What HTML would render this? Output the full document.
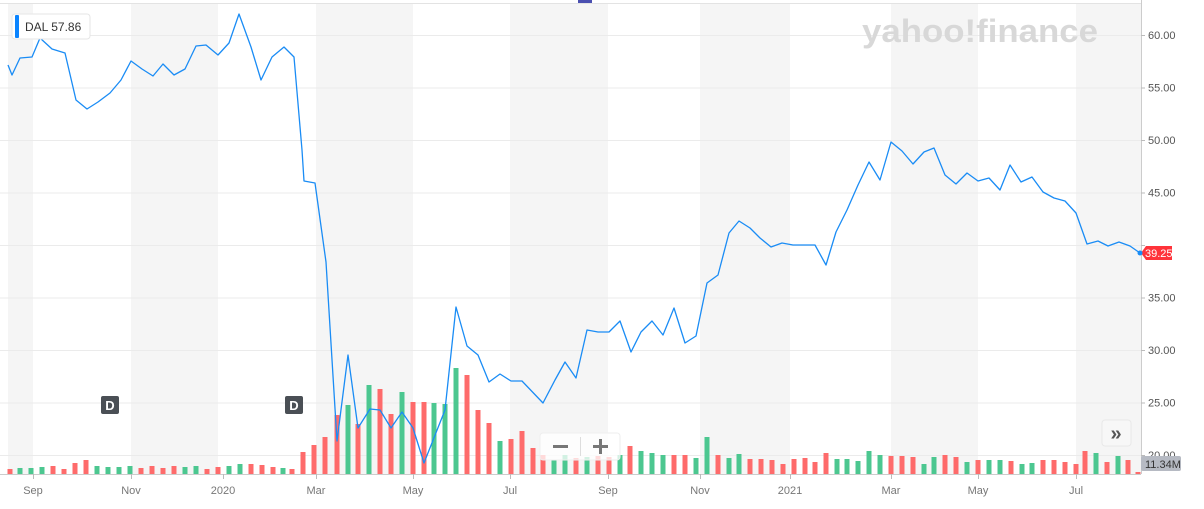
<!DOCTYPE html>
<html><head><meta charset="utf-8"><style>
body{margin:0;width:1204px;height:509px;overflow:hidden;background:#fff;font-family:"Liberation Sans",sans-serif}
svg{position:absolute;left:0;top:0}
</style></head><body>
<svg width="1204" height="509" id="s">
<g id="bands" fill="#f5f5f5">
<rect x="8" y="4" width="25" height="470"/>
<rect x="131" y="4" width="87" height="470"/>
<rect x="316" y="4" width="97" height="470"/>
<rect x="510" y="4" width="98" height="470"/>
<rect x="700" y="4" width="90" height="470"/>
<rect x="891" y="4" width="87" height="470"/>
<rect x="1076" y="4" width="65" height="470"/>
</g>
<line x1="0" y1="3.5" x2="1141" y2="3.5" stroke="#e3e3e3"/>
<g stroke="#ebebeb" id="grid"></g>
<g id="vol"></g>
<polyline id="price" fill="none" stroke="#1a8cf5" stroke-width="1.3" stroke-linejoin="round"/>
<line x1="0" y1="474.5" x2="1141" y2="474.5" stroke="#ccc"/>
<line x1="1141.5" y1="0" x2="1141.5" y2="474" stroke="#ccc"/>
<g id="ax" font-size="11" fill="#555"></g>
<g id="xax" font-size="11" fill="#777" text-anchor="middle"></g>
<rect x="578" y="0" width="14" height="3" fill="#4a4fb0"/>
<text x="980" y="42" font-size="32" font-weight="bold" fill="#d8d8d8" text-anchor="middle" textLength="236" lengthAdjust="spacingAndGlyphs">yahoo!finance</text>
<rect x="12" y="14" width="78" height="25" rx="3" fill="#fff" stroke="#e6e6e6"/>
<rect x="15" y="15" width="4" height="23" fill="#0a84ff" rx="1"/>
<text x="25" y="31" font-size="12" fill="#333">DAL  57.86</text>
<rect x="101" y="396" width="18" height="18" rx="2" fill="#4a4f55"/>
<text x="110" y="410" font-size="13" font-weight="bold" fill="#fff" text-anchor="middle">D</text>
<rect x="285" y="396" width="18" height="18" rx="2" fill="#4a4f55"/>
<text x="294" y="410" font-size="13" font-weight="bold" fill="#fff" text-anchor="middle">D</text>
<rect x="540" y="433" width="80" height="27" rx="3" fill="#fff" fill-opacity="0.75" stroke="#eee"/>
<rect x="553" y="445" width="15" height="3" fill="#777"/>
<rect x="593" y="445" width="15" height="3" fill="#777"/>
<rect x="599" y="439" width="3" height="15" fill="#777"/>
<line x1="580.5" y1="437" x2="580.5" y2="456" stroke="#ddd"/>
<rect x="1102" y="420" width="29" height="26" rx="3" fill="#f7f7f7" stroke="#e8e8e8"/>
<text x="1116" y="440" font-size="20" fill="#555" text-anchor="middle" font-weight="bold">»</text>
<path d="M1141 253 l5 -7 h26 v14 h-26z" fill="#ff333a"/>
<text x="1145" y="257" font-size="11" fill="#fff">39.25</text>
<circle cx="1140" cy="253" r="2.5" fill="#1a8cf5"/>
<rect x="1141" y="456" width="40" height="15" rx="2" fill="#b6bac3"/>
<text x="1145" y="468" font-size="11" fill="#333">11.34M</text>
</svg>
<script>
var ns="http://www.w3.org/2000/svg";
function el(p,t,a,tx){var e=document.createElementNS(ns,t);for(var k in a)e.setAttribute(k,a[k]);if(tx)e.textContent=tx;document.getElementById(p).appendChild(e);}
var vals=[60,55,50,45,40,35,30,25,20];
vals.forEach(function(v){var y=35+(60-v)*10.5;el("grid","line",{x1:0,x2:1141,y1:y+.5,y2:y+.5});el("ax","line",{x1:1141,x2:1145,y1:y+.5,y2:y+.5,stroke:"#bbb"});if(v!=40&&v!=20)el("ax","text",{x:1148,y:y+4},v.toFixed(2));});
el("ax","text",{x:1148,y:459},"20.00");
var m=[[33,"Sep"],[131,"Nov"],[223,"2020"],[316,"Mar"],[413,"May"],[510,"Jul"],[608,"Sep"],[700,"Nov"],[790,"2021"],[891,"Mar"],[978,"May"],[1076,"Jul"]];
m.forEach(function(a){el("xax","line",{x1:a[0]+.5,x2:a[0]+.5,y1:474,y2:479,stroke:"#bbb"});el("xax","text",{x:a[0],y:494},a[1]);});
var p=[[8,65],[12,75],[20,58],[32,57],[40,38],[52,49],[65,53],[76,100],[87,109],[98,102],[110,93],[121,80],[131,61],[142,69],[153,76],[163,64],[174,75],[185,69],[196,46],[206,45],[218,55],[229,43],[239,14],[251,47],[261,80],[272,57],[284,47],[294,57],[302,150],[304,181],[315,183],[326,262],[337,441],[348,355],[358,428],[370,409],[380,410],[391,428],[402,412],[413,428],[424,463],[445,410],[456,307],[467,346],[478,355],[489,382],[500,374],[511,381],[522,381],[543,403],[555,380],[565,362],[576,378],[587,330],[598,332],[609,332],[620,321],[631,352],[641,332],[652,321],[663,335],[674,308],[685,343],[696,336],[707,283],[718,275],[729,233],[739,221],[750,228],[760,238],[771,247],[782,243],[793,245],[804,245],[815,245],[826,265],[836,232],[847,210],[858,185],[869,162],[880,180],[891,142],[902,151],[913,164],[924,152],[934,148],[945,175],[956,184],[967,173],[978,181],[989,178],[1000,190],[1010,165],[1021,182],[1032,177],[1043,192],[1054,198],[1065,201],[1076,213],[1087,244],[1098,241],[1108,246],[1119,242],[1130,246],[1140,253]];
document.getElementById("price").setAttribute("points",p.map(function(a){return a.join(",")}).join(" "));
var early=[[10,469,"r"],[20,468,"g"],[31,468,"g"],[42,467,"g"],[53,466,"r"],[64,469,"r"],[75,463,"r"],[86,460,"r"],[97,466,"g"],[108,467,"g"],[119,467,"g"],[130,466,"g"],[141,468,"r"],[152,466,"r"],[163,468,"r"],[174,466,"r"],[185,467,"g"],[196,466,"g"],[207,469,"r"],[218,467,"r"],[229,466,"g"],[240,464,"g"],[251,464,"r"],[262,465,"r"],[273,467,"r"],[283,468,"g"],[292,469,"r"],[303,452,"r"],[314,445,"r"],[325,437,"r"],[337,415,"r"],[348,405,"g"],[358,424,"r"],[369,385,"g"],[380,389,"r"],[391,414,"r"],[402,392,"g"],[413,402,"r"],[424,402,"r"],[434,403,"g"],[445,404,"g"],[456,368,"g"],[467,375,"r"],[478,410,"r"],[489,423,"r"],[500,441,"g"],[511,439,"r"],[522,431,"r"],[533,448,"r"],[543,455,"r"],[554,460,"g"],[565,455,"g"],[576,458,"r"],[587,457,"g"],[598,456,"r"],[609,457,"r"],[620,455,"g"],[630,446,"r"],[641,451,"g"],[652,453,"g"],[663,455,"g"],[674,455,"r"],[685,455,"r"],[696,458,"g"],[707,437,"g"],[718,455,"r"],[729,458,"g"],[739,454,"g"],[750,459,"r"],[761,459,"r"],[772,460,"r"],[783,464,"r"],[794,459,"r"],[805,458,"r"],[815,462,"r"],[826,453,"r"],[837,459,"g"],[847,459,"g"],[858,461,"g"],[869,451,"g"],[880,455,"g"],[891,456,"r"],[902,456,"r"],[913,457,"r"],[924,464,"g"],[934,457,"g"],[945,455,"r"],[956,457,"r"],[967,462,"g"],[978,460,"r"],[989,460,"g"],[1000,460,"g"],[1011,461,"r"],[1022,464,"g"],[1032,463,"g"],[1043,460,"r"],[1054,460,"r"],[1065,462,"r"],[1076,464,"r"],[1085,451,"r"],[1096,453,"g"],[1107,462,"r"],[1118,456,"g"],[1128,460,"r"],[1138,472,"r"]];
early.forEach(function(b){el("vol","rect",{x:b[0]-2.5,y:b[1],width:5,height:474-b[1],fill:b[2]=="r"?"#fe6b6b":"#4cc790"});});
</script>
</body></html>
